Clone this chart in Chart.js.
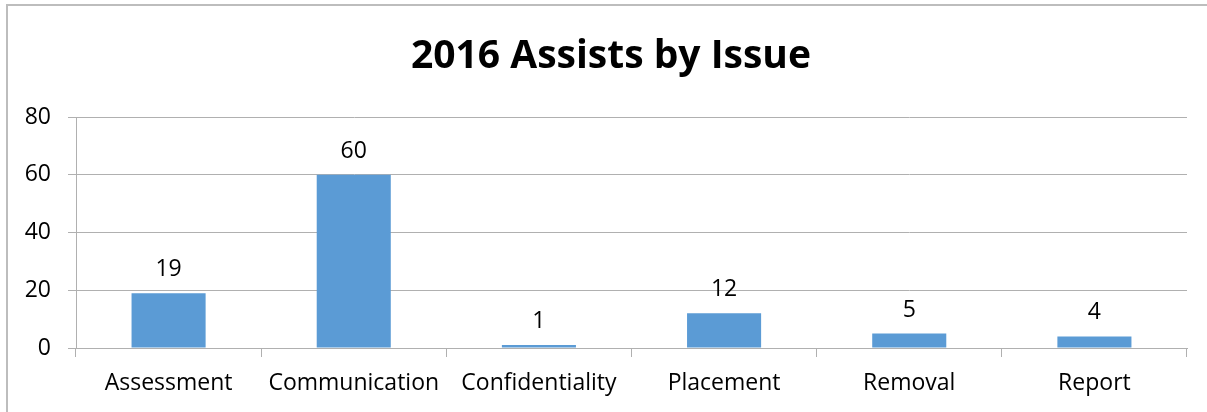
<!DOCTYPE html>
<html>
<head>
<meta charset="utf-8">
<script src="https://cdn.jsdelivr.net/npm/chart.js@4/dist/chart.umd.min.js"></script>
<style>
  html, body { margin: 0; padding: 0; background: #fff; }
  #wrap { position: relative; width: 1207px; height: 412px; overflow: hidden; }
  #frame { position: absolute; left: 6px; top: 4px; width: 1300px; height: 500px;
           border-left: 2px solid #bdbdbd; border-top: 2px solid #bdbdbd; box-sizing: border-box; }
  canvas { position: absolute; left: 0; top: 0; }
</style>
</head>
<body>
<div id="wrap">
  <div id="frame"></div>
  <canvas id="c" width="1207" height="412"></canvas>
</div>
<script>
// Assists logged in 2016, grouped by issue
const categories = ["Assessment", "Communication", "Confidentiality", "Placement", "Removal", "Report"];
const assists = [19, 60, 1, 12, 5, 4];
const yTicks = [0, 20, 40, 60, 80];
const chartTitle = "2016 Assists by Issue";

const FONT = "'Open Sans', sans-serif";
const LINE = "#b0b0b0";

// Heading, centred over the framed chart box
const heading = {
  id: "heading",
  afterDraw(chart) {
    const ctx = chart.ctx;
    ctx.save();
    ctx.font = "bold 39px " + FONT;
    ctx.fillStyle = "#000";
    ctx.textAlign = "center";
    ctx.textBaseline = "alphabetic";
    ctx.fillText(chartTitle, 611, 68);
    ctx.restore();
  }
};

// Writes each bar's value just above it
const valueLabels = {
  id: "valueLabels",
  afterDatasetsDraw(chart) {
    const ctx = chart.ctx;
    const meta = chart.getDatasetMeta(0);
    ctx.save();
    ctx.font = "23px " + FONT;
    ctx.fillStyle = "#000";
    ctx.textAlign = "center";
    ctx.textBaseline = "alphabetic";
    meta.data.forEach((bar, i) => {
      ctx.fillText(String(chart.data.datasets[0].data[i]), bar.x, bar.y - 17);
    });
    ctx.restore();
  }
};

new Chart(document.getElementById("c"), {
  type: "bar",
  data: {
    labels: categories,
    datasets: [{
      data: assists,
      backgroundColor: "#5b9bd5",
      borderWidth: 0,
      barPercentage: 0.4,
      categoryPercentage: 1.0
    }]
  },
  options: {
    responsive: false,
    animation: false,
    devicePixelRatio: 1,
    layout: { padding: { left: 0, right: 20, top: 117, bottom: 0 } },
    plugins: {
      legend: { display: false },
      tooltip: { enabled: false },
      title: { display: false }
    },
    scales: {
      x: {
        grid: { drawOnChartArea: false, drawTicks: true, tickLength: 9, offset: true, color: LINE },
        border: { display: true, color: LINE },
        ticks: { color: "#000", font: { family: FONT, size: 23 }, padding: 13, maxRotation: 0, autoSkip: false },
        afterFit(scale) { scale.height = 64; }
      },
      y: {
        min: 0,
        max: 80,
        afterBuildTicks(scale) { scale.ticks = yTicks.map(v => ({ value: v })); },
        grid: { color: LINE, tickLength: 8 },
        border: { display: true, color: LINE },
        ticks: { color: "#000", font: { family: FONT, size: 23 }, padding: 17 },
        afterFit(scale) { scale.width = 76; }
      }
    }
  },
  plugins: [valueLabels, heading]
});
</script>
</body>
</html>
